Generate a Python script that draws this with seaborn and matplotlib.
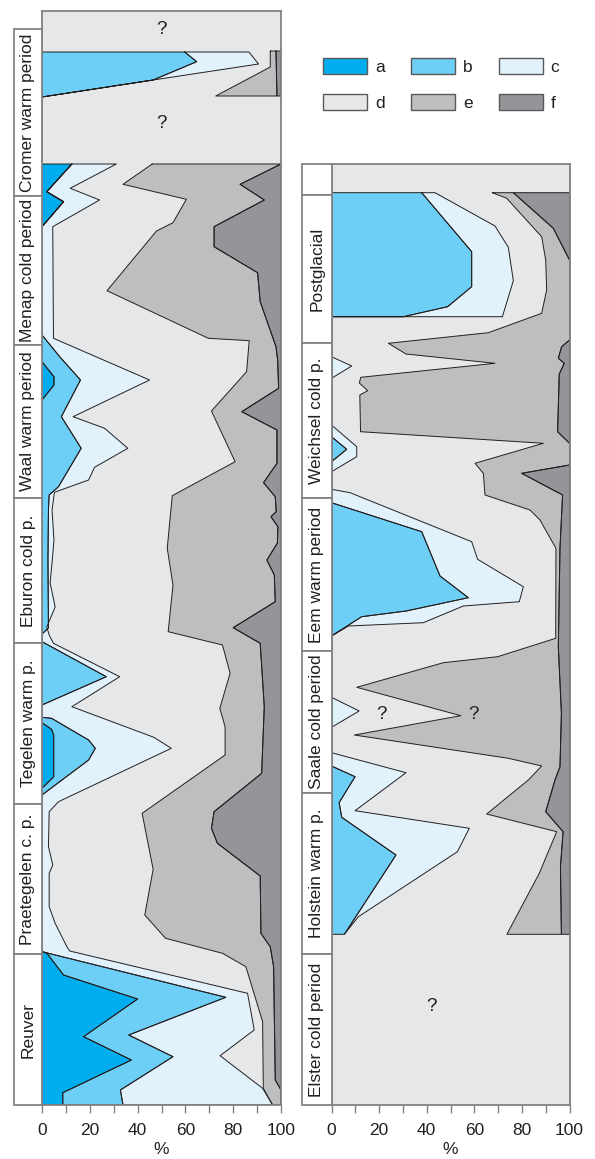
import seaborn as sns
import matplotlib.pyplot as plt
from matplotlib.patches import Patch, Rectangle

sns.set_theme(style="ticks")
plt.rcParams['font.family'] = ['Liberation Sans', 'DejaVu Sans']

GROUPS = ['a', 'b', 'c', 'd', 'e', 'f']
COLORS = ['#00aeef', '#6dcff6', '#e1f2fc', '#e6e7e8', '#bcbec0', '#939598']
LINE = '#231f20'
FRAME = '#808285'

# period boxes (depth = position down the core, same unit for both columns)
left_periods = ['Cromer warm period', 'Menap cold period', 'Waal warm period',
                'Eburon cold p.', 'Tegelen warm p.', 'Praetegelen c. p.', 'Reuver']
left_bounds = [29, 196, 345, 498, 643, 804, 954, 1105]
right_periods = ['', 'Postglacial', 'Weichsel cold p.', 'Eem warm period',
                 'Saale cold period', 'Holstein warm p.', 'Elster cold period']
right_bounds = [164, 195, 343, 498, 651, 793, 954, 1105]

# cumulative right edge of each group: (depth, %)
# left column, Cromer part
cromer_a = [(52, 0), (97, 0)]
cromer_b = [(52, 59.7), (61.7, 64.7), (80, 46.5), (97, 0)]
cromer_c = [(52, 86.6), (64, 90.6), (80, 46.5), (97, 0)]
cromer_d = [(51, 95.5), (67, 95.5), (96, 72.7)]
cromer_e = [(51, 97.9), (96, 98.3)]

# left column, Menap .. Reuver
main_a = [(164, 12.5), (191.7, 2.0), (201.7, 9.0), (226.7, 0), (361.7, 0), (376.7, 5.0),
          (385, 5.0), (400, 0), (722.7, 0), (729.3, 4.0), (735, 4.9), (776.7, 4.9),
          (788.3, 0), (951.7, 0), (953, 2.0), (975, 9.0), (999, 40.0), (1036.7, 17.4),
          (1060, 37.4), (1092.7, 8.7), (1105, 8.7)]
main_b = [(164, 12.5), (191.7, 2.0), (201.7, 9.0), (226.7, 0), (335, 0), (356.7, 7.4),
          (380, 16.1), (416.7, 8.1), (448.3, 16.4), (486.7, 6.9), (495, 3.0), (510, 2.7),
          (560, 2.5), (628, 2.7), (634, 0), (641.7, 0), (676.7, 26.9), (705, 0),
          (717.3, 0), (718.3, 4.0), (740, 19.5), (748.3, 22.3), (760, 19.5), (795, 0),
          (951.7, 0), (997.3, 76.9), (1035, 36.3), (1056.7, 54.8), (1090, 32.8),
          (1105, 33.9)]
main_c = [(164, 31.1), (188.3, 11.8), (200, 24.1), (226.7, 4.5), (338.3, 4.8), (380, 45.0),
          (416.7, 13.0), (428.3, 26.2), (448.3, 35.9), (467.3, 22.0), (480, 19.5),
          (492.3, 5.2), (510, 4.2), (540, 5.0), (560, 4.3), (583, 3.4), (607, 5.5),
          (627, 2.0), (635, 3.0), (643.3, 4.8), (676.7, 32.5), (706.7, 12.5),
          (737.3, 46.8), (748.3, 54.1), (801.7, 6.9), (811.7, 3.0), (846.7, 2.7),
          (865, 4.5), (873.3, 3.0), (906.7, 3.0), (923.3, 5.5), (946.7, 10.4),
          (951, 11.6), (993.3, 86.0), (1030, 88.8), (1055.7, 74.5), (1088.3, 92.3),
          (1105, 96.5)]
main_d = [(164, 46.1), (184.3, 33.9), (199.3, 60.4), (222.7, 54.8), (231, 47.9),
          (290.7, 27.2), (338.3, 69.6), (340.7, 86.7), (371.7, 85.6), (411, 70.9),
          (461.7, 80.8), (495.7, 54.5), (548.3, 52.4), (585, 54.8), (631.7, 52.8),
          (645, 75.5), (673.3, 78.7), (708.3, 74.4), (726.7, 76.6), (755, 76.6),
          (813.3, 41.9), (869.3, 46.5), (915, 43.0), (938.3, 51.7), (953.3, 75.5),
          (966.7, 85.3), (1021.7, 92.3), (1088.3, 92.6), (1105, 96.5)]
main_e = [(164, 100), (184.3, 82.9), (200, 93.0), (226.7, 72.0), (246.7, 72.0),
          (272.7, 90.2), (301.7, 91.3), (346.7, 97.9), (360, 98.6), (388.3, 99.0),
          (411.7, 83.6), (430, 98.3), (463.3, 98.3), (482.7, 92.7), (496.7, 97.6),
          (511.7, 98.0), (516.7, 95.8), (526.7, 98.7), (543, 98.5), (560, 94.1),
          (575, 97.2), (601.7, 97.6), (627.7, 80.0), (643.3, 91.3), (706.7, 93.0),
          (773.3, 91.9), (811.7, 72.0), (828.3, 70.9), (843.3, 73.4), (876, 91.3),
          (933.3, 91.6), (946.7, 95.5), (966.7, 96.9), (1080, 97.6), (1090, 100),
          (1105, 100)]

# right column, Postglacial .. Holstein
late_a = [(192.7, 0), (934.3, 0)]
late_b = [(192.7, 37.9), (251.7, 58.9), (286.7, 58.9), (306.7, 48.8), (316.7, 30.2),
          (316.7, 0), (436.7, 0), (449.3, 6.4), (461.7, 0), (502.7, 0), (531.7, 37.9),
          (576, 45.6), (597.7, 57.5), (611, 31.4), (616.7, 12.7), (636, 0), (766, 0),
          (776.7, 9.9), (802.7, 3.2), (817.3, 4.3), (855, 27.1), (934.3, 5.4)]
late_c = [(192.7, 43.5), (226, 68.7), (247.3, 74.3), (280.7, 76.4), (316.7, 71.8),
          (316.7, 0), (356.7, 0), (366, 8.5), (378.3, 0), (425, 0), (446.7, 10.6),
          (456.7, 10.6), (471.7, 0), (489.3, 0), (492.7, 7.8), (541.7, 58.9),
          (559.3, 61.4), (586.7, 80.6), (601.7, 78.9), (606, 55.4), (622.7, 38.6),
          (626, 7.1), (636, 0), (697.3, 0), (711, 11.6), (727.3, 0), (752.7, 0),
          (772.7, 31.3), (810.7, 9.9), (828.3, 57.9), (851.7, 52.9), (916.7, 11.3),
          (934.3, 5.4)]
late_d = [(192.7, 67.6), (198.3, 73.6), (236.7, 88.3), (260, 90.0), (290, 90.4),
          (313.3, 88.3), (332.7, 65.9), (343.3, 23.9), (354, 31.3), (363.3, 68.7),
          (377.3, 12.3), (383, 11.7), (390.7, 15.2), (395, 11.9), (431.7, 12.2),
          (443.3, 89.0), (463.3, 60.3), (473.3, 63.8), (495, 64.5), (510, 83.4),
          (520, 87.6), (548.3, 94.3), (638.3, 94.2), (656.7, 69.8), (662.7, 47.0),
          (687.3, 10.6), (715.7, 54.3), (735, 9.6), (758.3, 74.3), (766, 88.3),
          (780, 82.7), (814, 65.2), (831.7, 94.6), (873.3, 87.3), (934.3, 73.7)]
late_e = [(192.7, 76.4), (228.3, 93.2), (260, 100), (340, 100), (346.7, 96.7),
          (358.3, 95.3), (363.3, 97.8), (374, 95.7), (431.7, 95.0), (443.3, 100),
          (465, 100), (473.3, 79.9), (495, 97.1), (548, 96.0), (646.7, 95.3),
          (713, 96.6), (766.7, 96.0), (780, 93.9), (811.7, 90.0), (831.7, 97.3),
          (866.7, 96.2), (934.3, 96.6)]

# unknown parts
left_unknown = [(50, 29), (50, 123)]
right_unknown = [(20.8, 715), (59.6, 715), (42, 1007)]


def draw_section(ax, edges):
    top = edges[0][0][0]
    bottom = edges[0][-1][0]
    first = [(top, 0), (bottom, 0)]
    last = [(edges[-1][0][0], 100), (edges[-1][-1][0], 100)]
    full = [first] + edges + [last]
    for k in range(6):
        if GROUPS[k] == 'd':
            continue  # d is the background of the column
        left, right = full[k], full[k + 1][::-1]
        xs = [p for d, p in left] + [p for d, p in right]
        ys = [d for d, p in left] + [d for d, p in right]
        ax.fill(xs, ys, color=COLORS[k], lw=0, zorder=2)
        sns.lineplot(x=xs + xs[:1], y=ys + ys[:1], sort=False, estimator=None,
                     color=LINE, lw=0.7, ax=ax, zorder=3)


def style_column(ax, top):
    ax.set_facecolor(COLORS[3])
    ax.set_xlim(0, 100)
    ax.set_ylim(1105, top)
    ax.set_yticks([])
    ax.set_xticks(range(0, 101, 20))
    ax.set_xticks(range(10, 100, 20), minor=True)
    ax.tick_params(axis='x', which='both', direction='out', length=6, width=1,
                   color=FRAME, labelsize=12.5, labelcolor=LINE, pad=7)
    for s in ax.spines.values():
        s.set_color(FRAME)
        s.set_linewidth(1.3)
        s.set_zorder(5)
    ax.set_xlabel('%', fontsize=12.5, color=LINE, labelpad=3)
    ax.set_ylabel('')


def label_column(ax, names, bounds, top):
    ax.set_xlim(0, 1)
    ax.set_ylim(1105, top)
    ax.axis('off')
    for name, y0, y1 in zip(names, bounds[:-1], bounds[1:]):
        ax.add_patch(Rectangle((0, y0), 1, y1 - y0, facecolor='white',
                               edgecolor=FRAME, lw=1.3, clip_on=False))
        ax.text(0.5, (y0 + y1) / 2, name, rotation=90, ha='center', va='center',
                fontsize=12.5, color=LINE)


W, H = 595, 1159
fig = plt.figure(figsize=(W / 100, H / 100), dpi=100)

ax_l = fig.add_axes([42 / W, (H - 1105) / H, 239 / W, (1105 - 11) / H])
ax_r = fig.add_axes([331.5 / W, (H - 1105) / H, 238 / W, (1105 - 164) / H])
lab_l = fig.add_axes([14 / W, (H - 1105) / H, 28 / W, (1105 - 11) / H])
lab_r = fig.add_axes([302 / W, (H - 1105) / H, 29.5 / W, (1105 - 164) / H])

draw_section(ax_l, [cromer_a, cromer_b, cromer_c, cromer_d, cromer_e])
draw_section(ax_l, [main_a, main_b, main_c, main_d, main_e])
draw_section(ax_r, [late_a, late_b, late_c, late_d, late_e])

style_column(ax_l, 11)
style_column(ax_r, 164)
label_column(lab_l, left_periods, left_bounds, 11)
label_column(lab_r, right_periods, right_bounds, 164)

for ax, marks in [(ax_l, left_unknown), (ax_r, right_unknown)]:
    for x, y in marks:
        ax.text(x, y, '?', ha='center', va='center', fontsize=13.5, color=LINE, zorder=4)

# legend, rows a b c / d e f
order = [0, 3, 1, 4, 2, 5]
handles = [Patch(facecolor=COLORS[i], edgecolor='#58595b', lw=1) for i in order]
fig.legend(handles, [GROUPS[i] for i in order], ncol=3, frameon=False,
           loc='upper left', bbox_to_anchor=(323 / W, 1 - 58 / H),
           borderpad=0, borderaxespad=0, fontsize=12.5,
           handlelength=2.55, handleheight=1.05, handletextpad=0.45,
           columnspacing=1.5, labelspacing=1.1, labelcolor=LINE)

fig.savefig('out.png', dpi=100)
